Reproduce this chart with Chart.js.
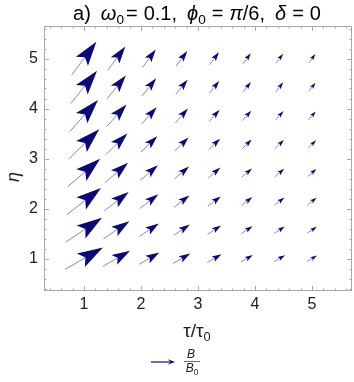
<!DOCTYPE html>
<html>
<head>
<meta charset="utf-8">
<script src="https://cdn.jsdelivr.net/npm/chart.js@4.4.1/dist/chart.umd.min.js"></script>
<style>
  html, body { margin: 0; padding: 0; background: #fff; }
</style>
</head>
<body>
<canvas id="myChart" width="354" height="382"></canvas>
<script>
// grid of sample points (tau/tau0 columns, eta rows)
const tauVals = [1, 1.571, 2.143, 2.714, 3.286, 3.857, 4.429, 5];
const etaVals = [1, 1.571, 2.143, 2.714, 3.286, 3.857, 4.429, 5];
// arrow size per tau column (data units) and direction per eta row (degrees)
const bMag = [0.80, 0.57, 0.43, 0.36, 0.30, 0.25, 0.23, 0.21];
const bAngle = [33.5, 37.5, 41.5, 44.5, 48, 52, 55, 57];
const xTicks = [1, 2, 3, 4, 5];
const yTicks = [1, 2, 3, 4, 5];

const FONT = "'Liberation Sans', Arial, sans-serif";

let points = [];
etaVals.forEach(function(eta, j) {
  tauVals.forEach(function(tau, i) {
    const a = bAngle[j] * Math.PI / 180;
    points.push({ x: tau, y: eta, u: bMag[i] * Math.cos(a), v: bMag[i] * Math.sin(a) });
  });
});

function drawArrow(ctx, x0, y0, x1, y1, hf, wf, shaftColor, lw) {
  const dx = x1 - x0, dy = y1 - y0;
  const L = Math.hypot(dx, dy);
  const ux = dx / L, uy = dy / L, nx = -uy, ny = ux;
  const hl = L * hf, hw = L * wf, notch = L * 0.12;
  const bx = x1 - ux * hl, by = y1 - uy * hl;
  ctx.strokeStyle = shaftColor;
  ctx.lineWidth = lw || 1;
  ctx.beginPath();
  ctx.moveTo(x0, y0);
  ctx.lineTo(bx + ux * notch, by + uy * notch);
  ctx.stroke();
  ctx.fillStyle = '#0a0a72';
  ctx.beginPath();
  ctx.moveTo(x1, y1);
  ctx.lineTo(bx + nx * hw, by + ny * hw);
  ctx.lineTo(bx + ux * notch, by + uy * notch);
  ctx.lineTo(bx - nx * hw, by - ny * hw);
  ctx.closePath();
  ctx.fill();
}

// draws a list of text runs, left to right; g = extra gap after a run
function drawRuns(ctx, runs, x, y, size, center) {
  function fnt(r) {
    const s = r.sub ? size * 0.68 : size;
    return (r.it ? 'italic ' : '') + s + 'px ' + FONT;
  }
  let total = 0;
  runs.forEach(function(r) { ctx.font = fnt(r); total += ctx.measureText(r.t).width + (r.g || 0); });
  let cx = center ? x - total / 2 : x;
  ctx.textBaseline = 'alphabetic';
  ctx.textAlign = 'left';
  runs.forEach(function(r) {
    ctx.font = fnt(r);
    ctx.fillText(r.t, cx, r.sub ? y + size * 0.22 : y);
    cx += ctx.measureText(r.t).width + (r.g || 0);
  });
}

const vectorPlugin = {
  id: 'vectorPlugin',
  afterDatasetsDraw: function(chart) {
    const ctx = chart.ctx;
    const xs = chart.scales.x, ys = chart.scales.y;
    const area = chart.chartArea;

    // frame with inward ticks
    ctx.save();
    ctx.strokeStyle = '#a8a8a8';
    ctx.lineWidth = 1;
    ctx.strokeRect(area.left + 0.5, area.top + 0.5, area.right - area.left - 1, area.bottom - area.top - 1);
    ctx.beginPath();
    for (let k = 2; k <= 28; k++) {
      const v = k / 5;
      const len = (k % 5 === 0) ? 5 : 2.5;
      const px = Math.round(xs.getPixelForValue(v)) + 0.5;
      if (px > area.left && px < area.right) {
        ctx.moveTo(px, area.bottom); ctx.lineTo(px, area.bottom - len);
        ctx.moveTo(px, area.top); ctx.lineTo(px, area.top + len);
      }
      const py = Math.round(ys.getPixelForValue(v)) + 0.5;
      if (py > area.top && py < area.bottom) {
        ctx.moveTo(area.left, py); ctx.lineTo(area.left + len, py);
        ctx.moveTo(area.right, py); ctx.lineTo(area.right - len, py);
      }
    }
    ctx.stroke();

    // vector arrows, centred on their grid point
    chart.data.datasets[0].data.forEach(function(p) {
      const x0 = xs.getPixelForValue(p.x - p.u / 2), y0 = ys.getPixelForValue(p.y - p.v / 2);
      const x1 = xs.getPixelForValue(p.x + p.u / 2), y1 = ys.getPixelForValue(p.y + p.v / 2);
      drawArrow(ctx, x0, y0, x1, y1, 0.58, 0.18, 'rgba(95,95,185,0.75)');
    });

    // title
    ctx.fillStyle = '#000';
    drawRuns(ctx, [
      { t: 'a)', g: 10 }, { t: 'ω', it: true }, { t: '0', sub: true, g: 2 }, { t: '=', g: 6 }, { t: '0.1,', g: 10 },
      { t: 'ϕ', it: true }, { t: '0', sub: true, g: 6 }, { t: '=', g: 6 }, { t: 'π', it: true },
      { t: '/6,', g: 10 }, { t: 'δ', it: true, g: 6 }, { t: '=', g: 6 }, { t: '0' }
    ], 197, 20, 20, true);

    // axis labels
    ctx.fillStyle = '#222';
    drawRuns(ctx, [{ t: 'τ/τ' }, { t: '0', sub: true }], 197, 337, 19, true);
    ctx.save();
    ctx.translate(19, 177);
    ctx.rotate(-Math.PI / 2);
    drawRuns(ctx, [{ t: 'η', it: true }], 0, 0, 18, true);
    ctx.restore();

    // legend
    drawArrow(ctx, 151, 362, 175, 362, 0.3, 0.11, '#2e2e92', 1.4);
    ctx.fillStyle = '#222';
    drawRuns(ctx, [{ t: 'B', it: true }], 191, 358, 12, true);
    ctx.strokeStyle = '#444';
    ctx.lineWidth = 0.8;
    ctx.beginPath(); ctx.moveTo(184, 361.5); ctx.lineTo(200, 361.5); ctx.stroke();
    drawRuns(ctx, [{ t: 'B', it: true }, { t: '0', sub: true }], 192, 372, 12, true);
    ctx.restore();
  }
};

var ctx = document.getElementById('myChart').getContext('2d');
var config = {
  type: 'scatter',
  data: {
    datasets: [{
      label: 'B/B0',
      data: points,
      pointRadius: 0,
      pointHoverRadius: 0
    }]
  },
  options: {
    responsive: false,
    animation: false,
    layout: { padding: { top: 26, right: 2, left: 0, bottom: 0 } },
    plugins: { legend: { display: false }, tooltip: { enabled: false }, title: { display: false } },
    scales: {
      x: {
        type: 'linear', min: 0.3, max: 5.7,
        afterBuildTicks: function(s) { s.ticks = xTicks.map(function(v) { return { value: v }; }); },
        afterFit: function(s) { s.height = 91; },
        ticks: { font: { family: FONT, size: 16 }, color: '#222', padding: 4, maxRotation: 0 },
        grid: { display: false, drawTicks: false },
        border: { display: false }
      },
      y: {
        type: 'linear', min: 0.35, max: 5.65,
        afterBuildTicks: function(s) { s.ticks = yTicks.map(function(v) { return { value: v }; }); },
        afterFit: function(s) { s.width = 44; },
        ticks: { font: { family: FONT, size: 16 }, color: '#222', padding: 6 },
        grid: { display: false, drawTicks: false },
        border: { display: false }
      }
    }
  },
  plugins: [vectorPlugin]
};

var chart = new Chart(ctx, config);
</script>
</body>
</html>
